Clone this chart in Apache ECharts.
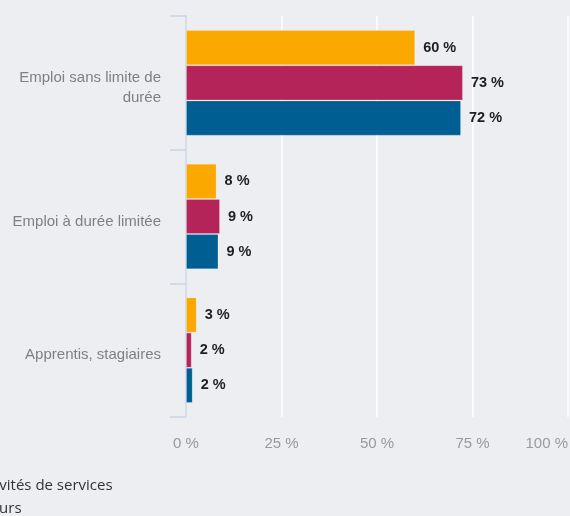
<!DOCTYPE html>
<html>
<head>
<meta charset="utf-8">
<script src="https://cdn.jsdelivr.net/npm/echarts@6/dist/echarts.min.js"></script>
<style>
html,body{margin:0;padding:0;background:#edeef1;}
#c{width:570px;height:516px;}
</style>
</head>
<body>
<div id="c"></div>
<script>
const categories = ['Emploi sans limite de durée', 'Emploi à durée limitée', 'Apprentis, stagiaires'];
const seriesNames = ['Autres activités de services', 'Tous secteurs', 'Industrie et construction'];
const valuesOrange = [60, 8, 2.8];
const valuesMagenta = [72.5, 8.9, 1.5];
const valuesBlue = [72, 8.5, 1.75];
const xTicks = [0, 25, 50, 75, 100];
const colors = ['#fba800', '#b52459', '#005e92'];

function wrap(text, maxChars) {
  const words = text.split(' ');
  const lines = [];
  let cur = '';
  words.forEach(w => {
    const next = cur ? cur + ' ' + w : w;
    if (next.length > maxChars && cur) { lines.push(cur); cur = w; } else { cur = next; }
  });
  if (cur) lines.push(cur);
  return lines.join('\n');
}

const chart = echarts.init(document.getElementById('c'), null, {renderer: 'canvas'});
const labelStyle = {
  show: true, position: 'right', distance: 8,
  fontFamily: 'Liberation Sans', fontSize: 14.5, fontWeight: 'bold', color: '#1e1e1e',
  formatter: p => Math.round(p.value) + ' %'
};
const data = [valuesOrange, valuesMagenta, valuesBlue];
chart.setOption({
  backgroundColor: '#edeef1',
  animation: false,
  color: colors,
  legend: {
    type: 'plain', orient: 'vertical', left: -111, top: 473, height: 200, width: 400,
    itemWidth: 25, itemHeight: 14, itemGap: 7,
    textStyle: {fontFamily: 'Open Sans', fontSize: 15, color: '#333'},
    data: seriesNames
  },
  grid: {left: 186, right: 2, top: 16, bottom: 99, containLabel: false, outerBoundsMode: 'none'},
  xAxis: {
    type: 'value', min: xTicks[0], max: xTicks[xTicks.length - 1], interval: 25,
    axisLine: {show: false}, axisTick: {show: false},
    splitLine: {show: true, lineStyle: {color: '#ffffff', width: 1.5}},
    axisLabel: {margin: 19, formatter: '{value} %', fontFamily: 'Liberation Sans', fontSize: 15, color: '#999',
      hideOverlap: false, alignMaxLabel: 'right'}
  },
  yAxis: {
    type: 'category', data: categories, inverse: true,
    axisLine: {show: true, lineStyle: {color: '#c9d4e4', width: 1.5}},
    axisTick: {show: true, length: 16, lineStyle: {color: '#c9d4e4', width: 1.5}},
    axisLabel: {
      margin: 25, lineHeight: 20,
      formatter: v => '{s| }\n' + wrap(v, 22),
      rich: {s: {fontSize: 1, lineHeight: 10}},
      fontFamily: 'Liberation Sans', fontSize: 15, color: '#808080', align: 'right'
    }
  },
  series: seriesNames.map((n, i) => ({
    name: n, type: 'bar', data: data[i],
    barGap: '0%', barCategoryGap: '21%',
    itemStyle: {borderColor: 'rgba(255,255,255,0.2)', borderWidth: 1},
    label: labelStyle
  }))
});
</script>
</body>
</html>
